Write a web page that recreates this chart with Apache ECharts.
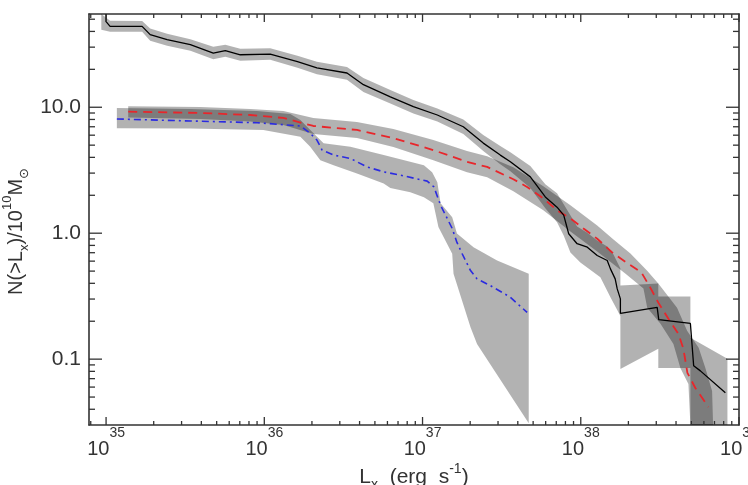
<!DOCTYPE html>
<html><head><meta charset="utf-8">
<script src="https://cdn.jsdelivr.net/npm/echarts@6/dist/echarts.min.js"></script>
<style>html,body{margin:0;padding:0;background:#fff}#c{width:748px;height:485px}</style>
</head><body><div id="c"></div>
<script>
// ---------- data (L in erg/s, N per 10^10 Msun) ----------
const blackL = [1.00e35,1.00e35,1.06e35,1.69e35,1.90e35,2.43e35,3.41e35,4.76e35,5.67e35,7.05e35,1.09e36,1.62e36,2.15e36,3.33e36,4.23e36,6.26e36,8.75e36,1.24e37,1.81e37,2.42e37,3.10e37,3.59e37,4.80e37,5.97e37,7.08e37,7.80e37,8.39e37,9.48e37,1.10e38,1.27e38,1.47e38,1.54e38,1.65e38,1.70e38,1.78e38,1.78e38,3.04e38,3.11e38,4.93e38,5.17e38,5.70e38,8.20e38];
const blackN = [55,47.8,43.9,43.9,37.7,34.4,31.4,26.9,28.1,26.1,26.4,23.0,20.5,18.7,15.1,12.1,10.1,8.68,7.00,5.19,4.17,3.69,2.80,1.94,1.61,1.39,0.99,0.825,0.775,0.665,0.607,0.521,0.434,0.361,0.301,0.231,0.258,0.206,0.192,0.0885,0.0807,0.0542];

const redL = [1.38e35,3.94e35,8.15e35,1.32e36,2.04e36,3.85e36,6.54e36,1.17e37,1.91e37,2.56e37,3.75e37,4.58e37,5.80e37,7.08e37,8.60e37,1.04e38,1.27e38,1.58e38,1.94e38,2.42e38,2.75e38,3.09e38,3.58e38,4.14e38,4.45e38,4.72e38,5.30e38,6.41e38];
const redN = [9.22,9.01,8.68,8.22,7.10,6.60,5.69,4.57,3.69,3.36,2.68,2.33,1.89,1.52,1.31,1.09,0.904,0.703,0.585,0.487,0.370,0.281,0.209,0.159,0.121,0.0778,0.0590,0.0417];

const blueL = [1.17e35,3.41e35,9.00e35,1.69e36,1.95e36,2.15e36,2.32e36,2.74e36,3.50e36,4.46e36,5.68e36,7.24e36,1.07e37,1.18e37,1.30e37,1.54e37,1.65e37,1.78e37,2.01e37,2.21e37,2.68e37,3.59e37,4.58e37];
const blueN = [8.07,7.78,7.54,7.10,6.21,5.49,4.57,4.17,3.92,3.36,3.07,2.89,2.59,2.33,1.67,1.09,0.845,0.687,0.505,0.434,0.384,0.310,0.235];

// uncertainty bands: upper edge and lower edge
const blackBandUpL = [9.33e34,1.06e35,1.69e35,1.90e35,2.43e35,3.41e35,4.76e35,5.67e35,7.05e35,1.09e36,1.62e36,2.15e36,3.33e36,4.23e36,6.26e36,8.75e36,1.24e37,1.81e37,2.42e37,3.10e37,3.59e37,4.80e37,5.97e37,7.08e37,8.39e37,9.48e37,1.10e38,1.27e38,1.47e38,1.61e38,1.78e38,1.78e38,3.09e38,3.09e38,4.93e38,4.93e38,8.45e38,8.45e38];
const blackBandUpN = [55,48.7,48.3,42.1,38.4,34.7,30.2,31.4,29.1,29.4,25.6,23.0,20.9,17.1,13.7,11.4,9.78,7.99,6.02,4.92,4.40,3.41,2.45,2.08,1.46,1.13,1.01,0.876,0.785,0.678,0.524,0.384,0.398,0.314,0.314,0.148,0.1006,0.03];
const blackBandLoL = [9.33e34,1.06e35,1.69e35,1.90e35,2.43e35,3.41e35,4.76e35,5.67e35,7.05e35,1.09e36,1.62e36,2.15e36,3.33e36,4.23e36,6.26e36,8.75e36,1.24e37,1.81e37,2.42e37,3.10e37,3.59e37,4.80e37,5.97e37,7.08e37,7.80e37,8.60e37,9.94e37,1.33e38,1.54e38,1.78e38,1.78e38,3.09e38,3.09e38,4.93e38,4.93e38];
const blackBandLoN = [41.3,39.8,39.8,33.8,30.8,28.1,24.0,25.2,23.4,23.8,20.6,18.3,16.5,13.2,10.7,8.93,7.71,6.13,4.49,3.53,3.11,2.28,1.58,1.22,0.960,0.703,0.585,0.447,0.310,0.22,0.0837,0.121,0.0852,0.0852,0.03];

const redBandUpL = [1.38e35,3.94e35,8.15e35,1.32e36,2.04e36,3.85e36,6.54e36,1.17e37,1.91e37,2.56e37,3.75e37,5.80e37,8.60e37,1.27e38,1.61e38,2.06e38,2.62e38,3.09e38,4.06e38,4.70e38,5.56e38,6.13e38,6.76e38,6.86e38];
const redBandUpN = [10.2,10.06,9.69,9.34,8.22,7.64,6.72,5.49,4.49,4.09,3.34,2.36,1.67,1.15,0.892,0.690,0.505,0.398,0.256,0.168,0.123,0.0852,0.0559,0.03];
const redBandLoL = [1.38e35,3.94e35,8.15e35,1.32e36,2.04e36,3.85e36,6.54e36,1.17e37,1.91e37,2.56e37,3.75e37,5.80e37,8.60e37,1.27e38,1.91e38,2.49e38,2.63e38,3.19e38,3.85e38,4.26e38,4.79e38,4.93e38];
const redBandLoN = [8.29,8.07,7.71,7.23,6.13,5.69,4.83,3.80,3.05,2.78,2.15,1.52,1.03,0.716,0.478,0.363,0.256,0.191,0.132,0.0852,0.0636,0.03];

const blueBandUpL = [1.17e35,3.41e35,9.00e35,1.46e36,1.69e36,2.04e36,2.37e36,3.50e36,5.68e36,1.02e37,1.15e37,1.24e37,1.30e37,1.54e37,1.65e37,2.10e37,2.96e37,4.69e37];
const blueBandUpN = [9.87,9.69,9.34,8.85,7.92,6.24,5.17,4.85,4.17,3.47,3.05,2.54,1.73,1.34,0.996,0.775,0.607,0.476];
const blueBandLoL = [1.17e35,3.41e35,9.86e35,1.69e36,1.95e36,2.26e36,2.74e36,3.85e36,5.68e36,6.26e36,8.37e36,1.02e37,1.17e37,1.26e37,1.54e37,1.57e37,2.01e37,2.21e37,4.69e37];
const blueBandLoN = [6.80,6.78,6.60,5.83,4.85,3.80,3.47,2.98,2.48,2.28,2.11,1.93,1.73,1.12,0.687,0.476,0.179,0.132,0.031];

// axis ranges and ticks
const xRange = [7.8e34, 1e39];
const yRange = [0.03, 55];
const xMajorTicks = [1e35,1e36,1e37,1e38,1e39];
const xMinorTicks = [8e34,2e35,3e35,4e35,5e35,6e35,7e35,8e35,9e35,2e36,3e36,4e36,5e36,6e36,7e36,8e36,9e36,2e37,3e37,4e37,5e37,6e37,7e37,8e37,9e37,2e38,3e38,4e38,5e38,6e38,7e38,8e38,9e38];
const yMajorTicks = [0.1,1,10];
const yMinorTicks = [0.04,0.05,0.06,0.07,0.08,0.09,0.2,0.3,0.4,0.5,0.6,0.7,0.8,0.9,2,3,4,5,6,7,8,9,20,30,40,50];

// ---------- styling ----------
const FONT = 'Liberation Sans, Arial, DejaVu Sans, sans-serif';
const AX = '#333';
const TXT = '#333';
const BAND = 'rgba(0,0,0,0.3)';

function zip(a, b) { return a.map((v, i) => [v, b[i]]); }

function bandSeries(upL, upN, loL, loN) {
  const pts = zip(upL, upN).concat(zip(loL, loN).reverse());
  return {
    type: 'custom', coordinateSystem: 'cartesian2d', silent: true, clip: true, z: 1,
    data: pts,
    renderItem(params, api) {
      if (params.dataIndexInside !== 0) return null;
      const n = params.dataInsideLength;
      const poly = [];
      for (let k = 0; k < n; k++) poly.push(api.coord([api.value(0, k), api.value(1, k)]));
      return { type: 'polygon', shape: { points: poly }, style: { fill: BAND } };
    }
  };
}

function tickSeries(vals, isX, len) {
  return {
    type: 'custom', coordinateSystem: 'cartesian2d', silent: true, z: 5,
    data: vals.map(v => isX ? [v, 1] : [1e37, v]),
    renderItem(params, api) {
      const cs = params.coordSys;
      const st = { stroke: AX, lineWidth: 1.3 };
      if (isX) {
        const x = api.coord([api.value(0), 1])[0];
        return { type: 'group', children: [
          { type: 'line', shape: { x1: x, y1: cs.y + cs.height, x2: x, y2: cs.y + cs.height - len }, style: st },
          { type: 'line', shape: { x1: x, y1: cs.y, x2: x, y2: cs.y + len }, style: st }
        ] };
      } else {
        const y = api.coord([1e37, api.value(1)])[1];
        return { type: 'group', children: [
          { type: 'line', shape: { x1: cs.x, y1: y, x2: cs.x + len, y2: y }, style: st },
          { type: 'line', shape: { x1: cs.x + cs.width, y1: y, x2: cs.x + cs.width - len, y2: y }, style: st }
        ] };
      }
    }
  };
}

function isDecade(v) {
  const l = Math.log10(v);
  return Math.abs(l - Math.round(l)) < 1e-6;
}

const chart = echarts.init(document.getElementById('c'), null, { renderer: 'canvas' });
const axisLine = { show: true, onZero: false, lineStyle: { color: AX, width: 1.6 } };
chart.setOption({
  animation: false,
  backgroundColor: '#fff',
  grid: { left: 89, right: 9, top: 14, bottom: 60, containLabel: false, outerBoundsMode: 'none' },
  xAxis: [{
    type: 'log', logBase: 10, min: xRange[0], max: xRange[1], position: 'bottom',
    axisLine, axisTick: { show: false }, splitLine: { show: false }, minorTick: { show: false },
    axisLabel: {
      margin: 1, color: TXT, fontFamily: FONT, showMinLabel: true, showMaxLabel: true,
      formatter: v => isDecade(v) ? '{b|10}{p|' + Math.round(Math.log10(v)) + '}' : '',
      rich: {
        b: { fontSize: 20, lineHeight: 33, verticalAlign: 'bottom', fontFamily: FONT, color: TXT },
        p: { fontSize: 14, verticalAlign: 'top', fontFamily: FONT, color: TXT }
      }
    },
    name: '{a|L}{s|x}{a|  (erg  s}{p|-1}{a|)}', nameLocation: 'middle', nameGap: 37, nameMoveOverlap: false,
    nameTextStyle: {
      color: TXT, fontFamily: FONT, fontSize: 21,
      rich: {
        a: { fontSize: 21, lineHeight: 30, fontFamily: FONT, color: TXT },
        s: { fontSize: 14, verticalAlign: 'bottom', fontFamily: FONT, color: TXT },
        p: { fontSize: 14, verticalAlign: 'top', fontFamily: FONT, color: TXT }
      }
    }
  }, {
    type: 'log', logBase: 10, min: xRange[0], max: xRange[1], position: 'top',
    axisLine, axisTick: { show: false }, splitLine: { show: false }, axisLabel: { show: false }
  }],
  yAxis: [{
    type: 'log', logBase: 10, min: yRange[0], max: yRange[1], position: 'left',
    axisLine, axisTick: { show: false }, splitLine: { show: false }, minorTick: { show: false },
    axisLabel: {
      margin: 8, color: TXT, fontFamily: FONT, fontSize: 21,
      formatter: v => isDecade(v) ? v.toFixed(1) : ''
    },
    name: '{a|N(>L}{s|x}{a|)/10}{p|10}{a|M}{s|\u2299}', nameLocation: 'middle', nameGap: 58, nameMoveOverlap: false,
    nameTextStyle: {
      color: TXT, fontFamily: FONT, fontSize: 20, padding: [0, 24, 0, 0],
      rich: {
        a: { fontSize: 20, lineHeight: 30, fontFamily: FONT, color: TXT },
        s: { fontSize: 13, verticalAlign: 'bottom', fontFamily: FONT, color: TXT },
        p: { fontSize: 13, verticalAlign: 'top', fontFamily: FONT, color: TXT }
      }
    }
  }, {
    type: 'log', logBase: 10, min: yRange[0], max: yRange[1], position: 'right',
    axisLine, axisTick: { show: false }, splitLine: { show: false }, axisLabel: { show: false }
  }],
  series: [
    bandSeries(blueBandUpL, blueBandUpN, blueBandLoL, blueBandLoN),
    bandSeries(redBandUpL, redBandUpN, redBandLoL, redBandLoN),
    bandSeries(blackBandUpL, blackBandUpN, blackBandLoL, blackBandLoN),
    { type: 'line', data: zip(blueL, blueN), showSymbol: false, symbol: 'none', z: 3, clip: true,
      lineStyle: { color: '#2b2be0', width: 1.6, type: [7, 4, 2, 4] } },
    { type: 'line', data: zip(redL, redN), showSymbol: false, symbol: 'none', z: 3, clip: true,
      lineStyle: { color: '#e8262b', width: 1.8, type: [9, 6] } },
    { type: 'line', data: zip(blackL, blackN), showSymbol: false, symbol: 'none', z: 4, clip: true,
      lineStyle: { color: '#000', width: 1.3 } },
    tickSeries(xMajorTicks, true, 8),
    tickSeries(xMinorTicks, true, 4),
    tickSeries(yMajorTicks, false, 13),
    tickSeries(yMinorTicks, false, 6)
  ]
});
</script>
</body></html>
